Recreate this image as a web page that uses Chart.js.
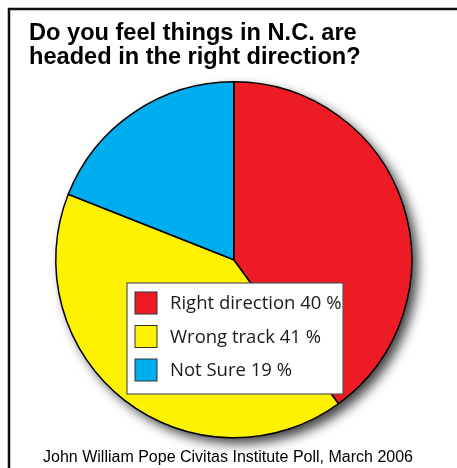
<!DOCTYPE html>
<html>
<head>
<meta charset="utf-8">
<script src="https://cdn.jsdelivr.net/npm/chart.js@4.4.1/dist/chart.umd.min.js"></script>
<style>
  html, body { margin: 0; padding: 0; background: #ffffff; }
  #wrap { width: 457px; height: 468px; }
</style>
</head>
<body>
<div id="wrap"><canvas id="grafico" width="457" height="468"></canvas></div>
<script>
const categorias = ["Right direction", "Wrong track", "Not Sure"];
const valores = [40, 41, 19];
const cores = ["#ed1c24", "#fff200", "#00aeef"];

const titulo = ["Do you feel things in N.C. are", "headed in the right direction?"];
const fonte = "John William Pope Civitas Institute Poll, March 2006";

// moldura, sombra, titulo, legenda e fonte
const extras = {
    id: "extras",

    beforeDraw(chart) {
        const ctx = chart.ctx;
        ctx.save();
        ctx.fillStyle = "#ffffff";
        ctx.fillRect(0, 0, chart.width, chart.height);
        ctx.strokeStyle = "#111111";
        ctx.lineWidth = 2.5;
        ctx.strokeRect(9, 9, chart.width + 20, chart.height + 20);

        ctx.fillStyle = "#000000";
        ctx.font = "bold 23.6px 'Liberation Sans', Arial, sans-serif";
        ctx.textBaseline = "alphabetic";
        ctx.textAlign = "left";
        titulo.forEach((linha, i) => {
            ctx.fillText(linha, 29, 40 + i * 24);
        });

        ctx.font = "16px 'Liberation Sans', Arial, sans-serif";
        ctx.textAlign = "center";
        ctx.fillText(fonte, 228, 462);
        ctx.restore();
    },

    beforeDatasetsDraw(chart) {
        const arc = chart.getDatasetMeta(0).data[0];
        if (!arc) return;
        const ctx = chart.ctx;
        ctx.save();
        ctx.shadowColor = "rgba(0,0,0,0.75)";
        ctx.shadowBlur = 12;
        ctx.shadowOffsetX = 6;
        ctx.shadowOffsetY = 6;
        ctx.fillStyle = "#ffffff";
        ctx.beginPath();
        ctx.arc(arc.x, arc.y, arc.outerRadius, 0, Math.PI * 2);
        ctx.fill();
        ctx.restore();
    },

    afterDatasetsDraw(chart) {
        const ctx = chart.ctx;
        const box = { x: 127, y: 283, w: 216, h: 111 };
        ctx.save();
        ctx.fillStyle = "#ffffff";
        ctx.fillRect(box.x, box.y, box.w, box.h);
        ctx.strokeStyle = "#555555";
        ctx.lineWidth = 1.2;
        ctx.strokeRect(box.x, box.y, box.w, box.h);

        ctx.font = "18.5px 'Open Sans', sans-serif";
        ctx.textBaseline = "middle";
        ctx.textAlign = "left";
        categorias.forEach((cat, i) => {
            const y = 303 + i * 33.5;
            ctx.fillStyle = cores[i];
            ctx.fillRect(135, y - 11, 22, 22);
            ctx.strokeStyle = "#333333";
            ctx.lineWidth = 1;
            ctx.strokeRect(135, y - 11, 22, 22);
            ctx.fillStyle = "#1a1a1a";
            ctx.fillText(cat + " " + valores[i] + " %", 170, y + 1);
        });
        ctx.restore();
    }
};

new Chart(document.getElementById("grafico"), {
    type: "pie",
    data: {
        labels: categorias,
        datasets: [{
            data: valores,
            backgroundColor: cores,
            borderColor: "#000000",
            borderWidth: 1.5,
            hoverOffset: 0
        }]
    },
    plugins: [extras],
    options: {
        responsive: false,
        animation: false,
        events: [],
        layout: {
            padding: { left: 55, top: 81, right: 44.5, bottom: 29.5 }
        },
        plugins: {
            legend: { display: false },
            title: { display: false },
            tooltip: { enabled: false }
        }
    }
});
</script>
</body>
</html>
